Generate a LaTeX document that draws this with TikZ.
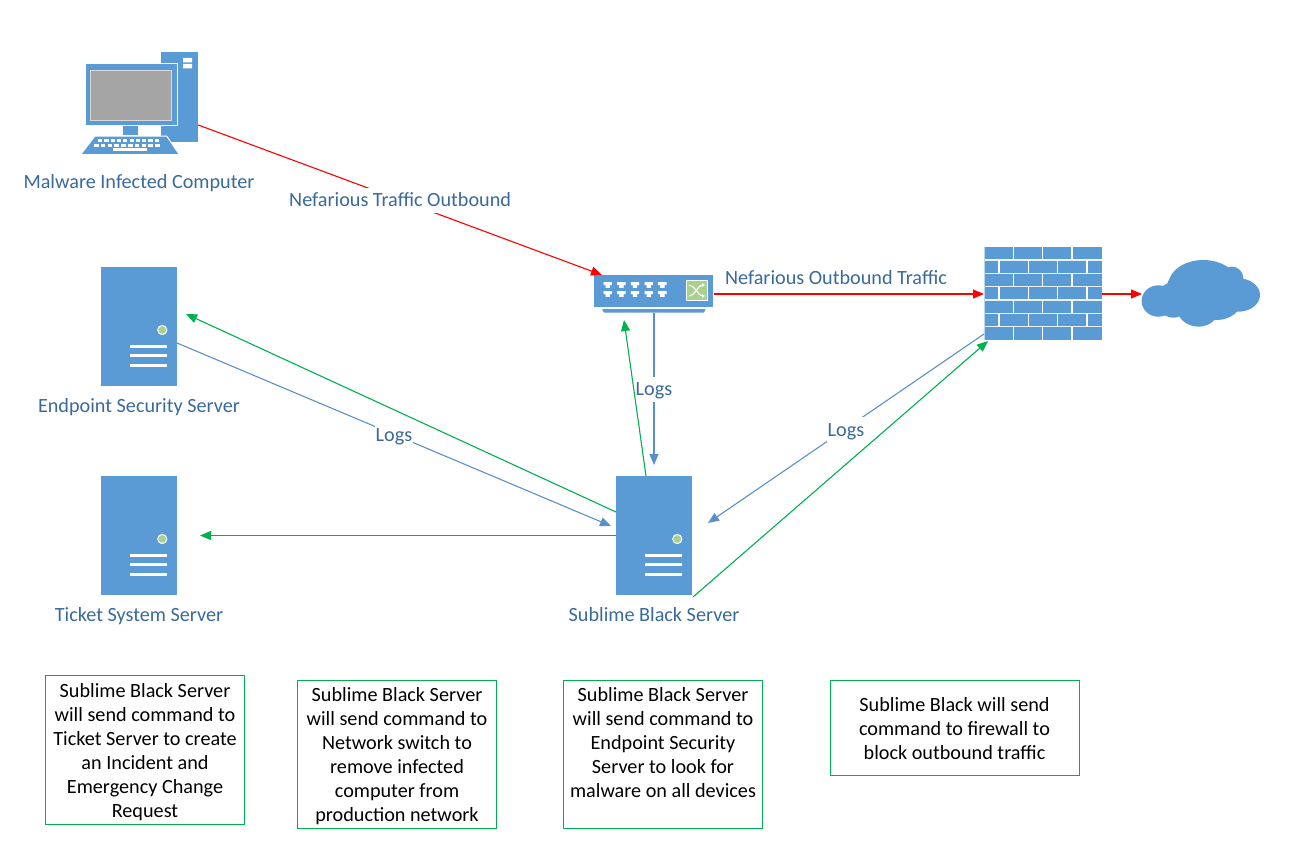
\documentclass[tikz,border=0pt]{standalone}
\usepackage{fontspec}
\setmainfont{Carlito}
\usetikzlibrary{arrows.meta,calc}
\definecolor{iconblue}{HTML}{5B9BD5}
\definecolor{lineblue}{HTML}{5B8FC9}
\definecolor{labelblue}{HTML}{3A6A9A}
\definecolor{cmdgreen}{HTML}{00B050}
\definecolor{ledgreen}{HTML}{A9D18E}
\definecolor{screengrey}{HTML}{A5A5A5}
\definecolor{brickline}{HTML}{BDD7EE}
\newcommand{\notepad}[1]{\rule{0pt}{13pt}\\[-#1pt]}
\tikzset{
  x=1pt,y=-1pt,
  every node/.style={font=\fontsize{20.2}{24}\selectfont,inner sep=0pt,outer sep=0pt},
  servernode/.style={rectangle,fill=iconblue,minimum width=76pt,minimum height=119pt},
  icon/.style={fill=iconblue,draw=none},
  itemlabel/.style={text=labelblue,align=center,text height=16pt,text depth=3pt},
  linklabel/.style={text=labelblue,fill=white,inner xsep=1pt,inner ysep=3pt,text height=16pt,text depth=3pt},
  redlink/.style={draw=red,line width=1.1pt,-{Triangle[length=11pt,width=9pt]}},
  bluelink/.style={draw=lineblue,line width=1.1pt,-{Triangle[length=11pt,width=9pt]}},
  greenlink/.style={draw=cmdgreen,line width=1.1pt,-{Triangle[length=11pt,width=9pt]}},
  notebox/.style={draw=cmdgreen,line width=1pt,fill=white,minimum width=199pt,align=center,text=black},
  portshape/.pic={\fill[white] (-4.2,-2.8) -- (4.2,-2.8) -- (4.2,0.2) -- (2.2,0.2) -- (2.2,2.8) -- (-2.2,2.8) -- (-2.2,0.2) -- (-4.2,0.2) -- cycle;},
  serverdetails/.pic={
    \fill[ledgreen,draw=white,line width=1pt] (23.3,3.5) circle (4.6);
    \foreach \yy in {20,29.2,38.5}{\fill[white] (-9,\yy-1.5) rectangle (27.7,\yy+1.5);}
  }
}
\begin{document}
\begin{tikzpicture}
\useasboundingbox (0,0) rectangle (1290,851);
% ---- computer
\node[minimum width=117.6pt,minimum height=103pt] (pc) at (139.5,103.5) {};
\fill[icon] (161,52) rectangle (198.3,141.7);
\fill[white] (183,58) rectangle (192,62.5) (183,64) rectangle (192,68.5);
\fill[iconblue,draw=white,line width=1pt] (85.3,64) rectangle (177,125);
\fill[screengrey,draw=white!85!black,line width=1pt] (90.7,70.7) rectangle (171,120);
\fill[icon] (122.7,125.5) rectangle (138,135);
\fill[iconblue,draw=white,line width=1pt] (95,136) -- (166.7,136) -- (179.3,154.5) -- (80.7,154.5) -- cycle;
\foreach \kx in {0,...,9}{
  \fill[white] (98+6.3*\kx,139) rectangle (102.2+6.3*\kx,142.2);
  \fill[white] (94+6.8*\kx,144) rectangle (98.5+6.8*\kx,147);
}
\fill[white] (113,148.3) rectangle (146.7,150.5);
\node[itemlabel] (pclabel) at (139,182) {Malware Infected Computer};
% ---- switch
\node[minimum width=120pt,minimum height=38pt] (sw) at (654,294) {};
\fill[icon] (594.3,275) rectangle (713.3,306.7);
\fill[icon] (602,309) -- (705.7,309) -- (704,312.7) -- (604,312.7) -- cycle;
\foreach \px in {607.7,621.3,635,648.7,662.3}{
  \pic at (\px,285) {portshape};
  \pic at (\px,294) {portshape};
}
\fill[ledgreen,draw=white,line width=1pt] (686,280) rectangle (707.7,300.7);
\draw[white,line width=1.1pt,-{Triangle[length=3pt,width=3.5pt]}] (689,285) .. controls (695,285) and (698,296) .. (705,296);
\draw[white,line width=1.1pt,-{Triangle[length=3pt,width=3.5pt]}] (689,296) .. controls (695,296) and (698,285) .. (705,285);
% ---- firewall
\node[minimum width=118pt,minimum height=94pt] (fw) at (1043,294) {};
\fill[icon] (984,246.7) rectangle (1101.7,340);
\foreach \rw in {1,...,6}{\fill[white!70!brickline] (984,246.7+13.33*\rw-0.6) rectangle (1101.7,246.7+13.33*\rw+0.6);}
\fill[brickline] (983.5,246.7) rectangle (984.6,340);
\foreach \rw in {0,2,4,6}{\foreach \bx in {1013.3,1042.7,1072}{\fill[white] (\bx-0.6,246.7+13.33*\rw) rectangle (\bx+0.6,246.7+13.33*\rw+13.33);}}
\foreach \rw in {1,3,5}{\foreach \bx in {999,1028.3,1057.7,1087}{\fill[white] (\bx-0.6,246.7+13.33*\rw) rectangle (\bx+0.6,246.7+13.33*\rw+13.33);}}
% ---- cloud
\node[minimum width=118pt,minimum height=67pt] (cloud) at (1201,294) {};
\fill[icon]
  (1158.3,301) ellipse [x radius=16.7,y radius=15.7]
  (1203.3,285) ellipse [x radius=35,y radius=25]
  (1231.7,278.3) circle (11.7)
  (1238.3,295) ellipse [x radius=21.7,y radius=16.7]
  (1198.3,306.7) ellipse [x radius=21.7,y radius=20]
  (1173.3,300) ellipse [x radius=16.7,y radius=17.7]
  (1216.7,300) ellipse [x radius=25,y radius=20]
  (1183.3,288.3) circle (16.7);
% ---- servers
\node[servernode] (es) at (139,326.5) {};
\pic at (139,326.5) {serverdetails};
\node[itemlabel] (eslabel) at (139,406) {Endpoint Security Server};
\node[servernode] (ts) at (139,535.5) {};
\pic at (139,535.5) {serverdetails};
\node[itemlabel] (tslabel) at (139,615) {Ticket System Server};
\node[servernode] (sb) at (654,535.5) {};
\pic at (654,535.5) {serverdetails};
\node[itemlabel] (sblabel) at (654,615) {Sublime Black Server};
% ---- connectors
\draw[redlink] ($(pc.south east)+(0,-30)$) -- node[linklabel,pos=.5] {Nefarious Traffic Outbound} ($(sw.north west)+(8,0)$);
\draw[redlink] (sw.east) -- (fw.west);
\node[itemlabel] (outlabel) at (836,278) {Nefarious Outbound Traffic};
\draw[redlink] (fw.east) -- (cloud.west);
\draw[bluelink] (sw.south) -- node[linklabel,pos=.5] {Logs} ($(sb.north)+(0,-11)$);
\draw[bluelink] ($(es.east)+(0,16.5)$) -- node[linklabel,pos=.5] {Logs} ($(sb.west)+(-5,-9.5)$);
\draw[bluelink] ($(fw.south west)+(0,-7)$) -- node[linklabel,pos=.5,yshift=-1pt] {Logs} ($(sb.east)+(16,-12.5)$);
\draw[greenlink] ($(sb.west)+(0,-23.5)$) -- ($(es.east)+(9,-12.5)$);
\draw[greenlink] ($(sb.north)+(-8,0)$) -- ($(sw.south)+(-30,7)$);
\draw[greenlink] (sb.west) -- ($(ts.east)+(23,0)$);
\draw[greenlink] ($(sb.south east)+(1,2)$) -- ($(fw.south west)+(4,0)$);
% ---- notes
\node[notebox,minimum height=149pt] (n1) at (145,749.5) {\notepad{17}Sublime Black Server\\will send command to\\Ticket Server to create\\an Incident and\\Emergency Change\\Request};
\node[notebox,minimum height=148pt] (n2) at (397,754) {\notepad{18}Sublime Black Server\\will send command to\\Network switch to\\remove infected\\computer from\\production network};
\node[notebox,minimum height=148pt] (n3) at (663,754) {\notepad{22}Sublime Black Server\\will send command to\\Endpoint Security\\Server to look for\\malware on all devices\\\mbox{}};
\node[notebox,minimum width=249pt,minimum height=95pt] (n4) at (954.5,727.5) {\notepad{20}Sublime Black will send\\command to firewall to\\block outbound traffic};
\end{tikzpicture}
\end{document}
